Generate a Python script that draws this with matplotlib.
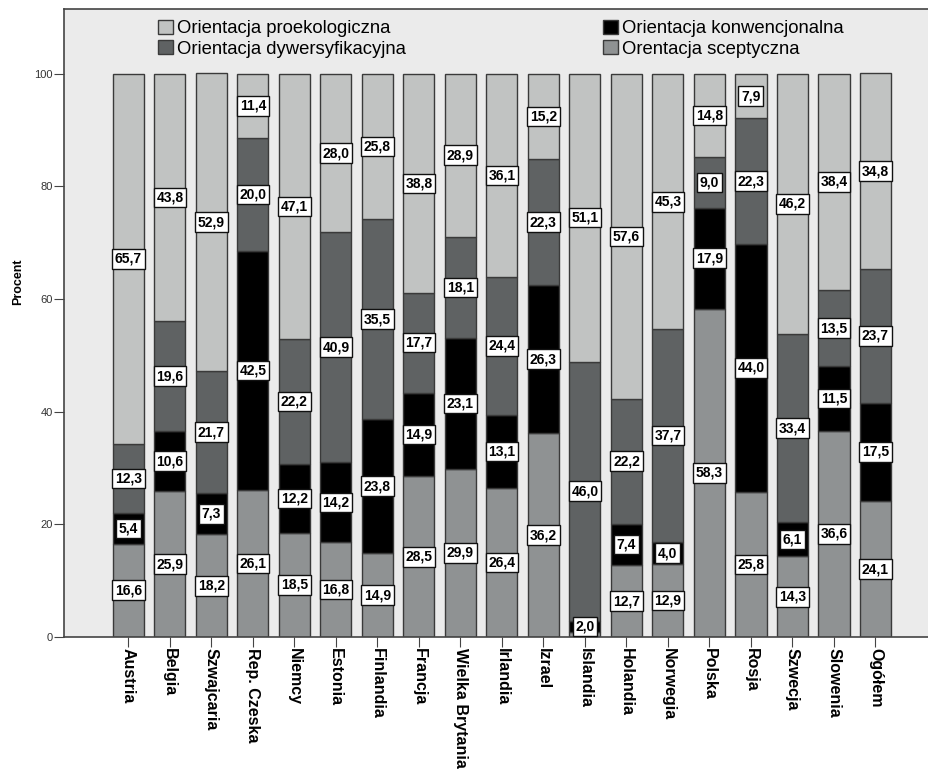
import matplotlib
matplotlib.use("Agg")
import matplotlib.pyplot as plt
import numpy as np
from matplotlib.patches import Patch

plt.rcParams["font.family"] = ["Liberation Sans", "DejaVu Sans"]

COUNTRIES = ["Austria", "Belgia", "Szwajcaria", "Rep. Czeska", "Niemcy", "Estonia",
             "Finlandia", "Francja", "Wielka Brytania", "Irlandia", "Izrael", "Islandia",
             "Holandia", "Norwegia", "Polska", "Rosja", "Szwecja", "Slowenia", "Ogółem"]

# stacked from the bottom up
SCEPTYCZNA = [16.6, 25.9, 18.2, 26.1, 18.5, 16.8, 14.9, 28.5, 29.9, 26.4, 36.2, 0.9,
              12.7, 12.9, 58.3, 25.8, 14.3, 36.6, 24.1]
KONWENCJONALNA = [5.4, 10.6, 7.3, 42.5, 12.2, 14.2, 23.8, 14.9, 23.1, 13.1, 26.3, 2.0,
                  7.4, 4.0, 17.9, 44.0, 6.1, 11.5, 17.5]
DYWERSYFIKACYJNA = [12.3, 19.6, 21.7, 20.0, 22.2, 40.9, 35.5, 17.7, 18.1, 24.4, 22.3, 46.0,
                    22.2, 37.7, 9.0, 22.3, 33.4, 13.5, 23.7]
PROEKOLOGICZNA = [65.7, 43.8, 52.9, 11.4, 47.1, 28.0, 25.8, 38.8, 28.9, 36.1, 15.2, 51.1,
                  57.6, 45.3, 14.8, 7.9, 46.2, 38.4, 34.8]

SERIES = [
    ("Orentacja sceptyczna", SCEPTYCZNA, "#8f9293"),
    ("Orientacja konwencjonalna", KONWENCJONALNA, "#000000"),
    ("Orientacja dywersyfikacyjna", DYWERSYFIKACYJNA, "#5f6263"),
    ("Orientacja proekologiczna", PROEKOLOGICZNA, "#c1c3c2"),
]

W, H = 929, 773
fig = plt.figure(figsize=(W / 100, H / 100), dpi=100)
ax = fig.add_axes([64 / W, 136 / H, 1 - 64 / W, (637 - 9) / H])
ax.set_facecolor("#ebebeb")

x = np.arange(len(COUNTRIES))
bottom = np.zeros(len(COUNTRIES))
handles = {}
for name, vals, color in SERIES:
    vals = np.array(vals)
    ax.bar(x, vals, bottom=bottom, width=0.75, color=color,
           edgecolor="#3a3a3a", linewidth=1.0, zorder=2)
    for xi, b, v in zip(x, bottom, vals):
        if v < 1:
            continue
        ax.text(xi, b + v / 2, f"{v:.1f}".replace(".", ","), ha="center", va="center",
                fontsize=10, fontweight="bold", zorder=4,
                bbox=dict(boxstyle="square,pad=0.2", facecolor="white",
                          edgecolor="#111111", linewidth=1.0))
    handles[name] = Patch(facecolor=color, edgecolor="#3a3a3a", linewidth=1.0, label=name)
    bottom += vals

ax.set_xlim(-1.55, 19.29)
ax.set_ylim(0, 111.5)
ax.set_yticks([0, 20, 40, 60, 80, 100])
ax.tick_params(axis="y", labelsize=8, length=7, pad=1, color="#444444", labelcolor="#333333")
ax.set_xticks(x)
ax.set_xticklabels(COUNTRIES, rotation=-90, fontsize=11.5, fontweight="bold")
ax.tick_params(axis="x", length=7, color="#444444", pad=1)
ax.set_ylabel("Procent", fontsize=9, fontweight="bold")
ax.yaxis.set_label_coords(-0.046, 0.565)

for side in ("left", "bottom", "top"):
    ax.spines[side].set_color("#444444")
    ax.spines[side].set_linewidth(1.2)
ax.spines["right"].set_visible(False)

legend_kw = dict(loc="upper left", frameon=False, fontsize=13.3, borderpad=0,
                 borderaxespad=0, handlelength=0.8, handleheight=0.8,
                 handletextpad=0.25, labelspacing=0.15, bbox_transform=fig.transFigure)
leg1 = ax.legend(handles=[handles["Orientacja proekologiczna"],
                          handles["Orientacja dywersyfikacyjna"]],
                 bbox_to_anchor=(158 / W, 1 - 20 / H), **legend_kw)
ax.add_artist(leg1)
ax.legend(handles=[handles["Orientacja konwencjonalna"],
                   handles["Orentacja sceptyczna"]],
          bbox_to_anchor=(603 / W, 1 - 20 / H), **legend_kw)

fig.savefig("out.png", dpi=100)
